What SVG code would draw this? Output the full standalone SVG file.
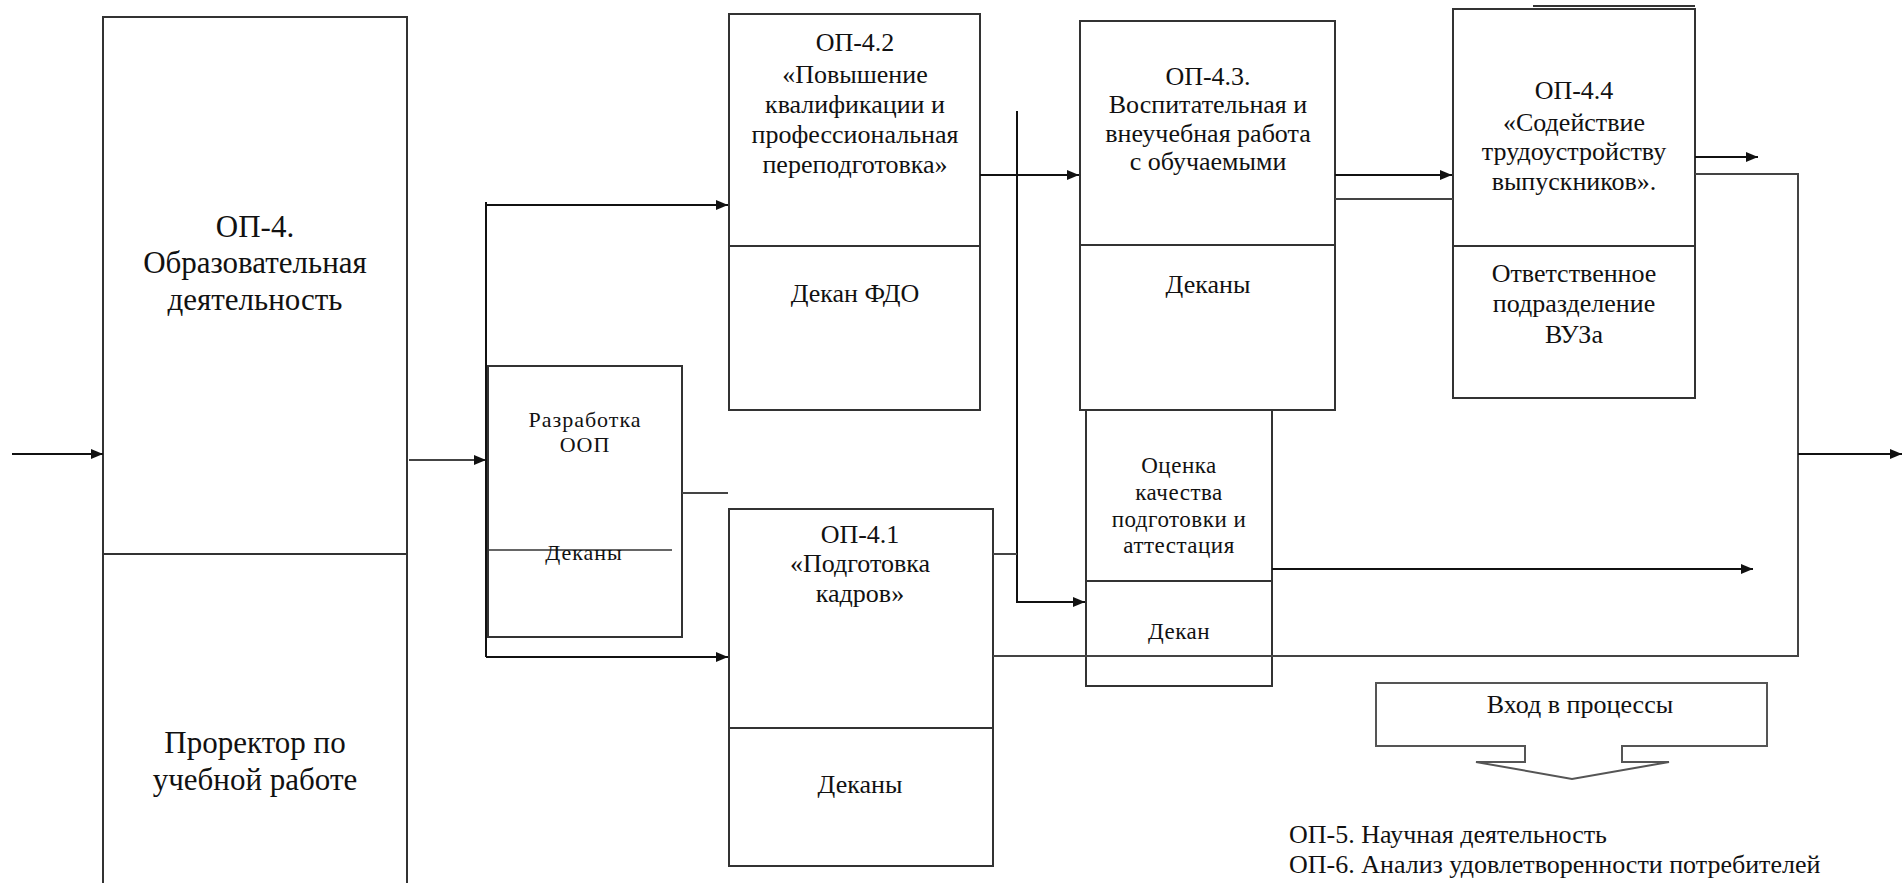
<svg xmlns="http://www.w3.org/2000/svg" width="1903" height="883" viewBox="0 0 1903 883">
<defs>
<marker id="ah" viewBox="0 0 12 10" refX="12" refY="5" markerWidth="12" markerHeight="10" markerUnits="userSpaceOnUse" orient="auto">
<path d="M0,0 L12,5 L0,10 Z" fill="#111"/>
</marker>
<style>
.box{fill:#fff;stroke:#333;stroke-width:2}
.div{stroke:#333;stroke-width:2}
.t{font-family:"Liberation Serif","Times New Roman",serif;fill:#111;text-anchor:middle}
.big{font-size:31px}
.m{font-size:26px}
.s{font-size:23px;letter-spacing:0.5px}
.xs{font-size:22px;letter-spacing:1px}
.l{font-family:"Liberation Serif","Times New Roman",serif;fill:#111;font-size:26px}
.c{fill:none;stroke:#111;stroke-width:2}
.cg{fill:none;stroke:#444;stroke-width:2}
.a{marker-end:url(#ah)}
</style>
</defs>
<rect width="1903" height="883" fill="#fff"/>

<g id="op4">
<rect class="box" x="103" y="17" width="304" height="900"/>
<line class="div" x1="103" y1="554" x2="407" y2="554"/>
<text class="t big" x="255" y="237">ОП-4.</text>
<text class="t big" x="255" y="273">Образовательная</text>
<text class="t big" x="255" y="310">деятельность</text>
<text class="t big" x="255" y="753">Проректор по</text>
<text class="t big" x="255" y="790">учебной работе</text>
</g>

<g id="razrabotka">
<rect class="box" x="488" y="366" width="194" height="271"/>
<line class="div" x1="486" y1="550" x2="672" y2="550" style="stroke-width:1.5"/>
<text class="t xs" x="585" y="427">Разработка</text>
<text class="t xs" x="585" y="452">ООП</text>
<text class="t xs" x="584" y="560">Деканы</text>
</g>

<g id="op4-2">
<rect class="box" x="729" y="14" width="251" height="396"/>
<line class="div" x1="729" y1="246" x2="980" y2="246"/>
<text class="t m" x="855" y="51">ОП-4.2</text>
<text class="t m" x="855" y="83">«Повышение</text>
<text class="t m" x="855" y="113">квалификации и</text>
<text class="t m" x="855" y="143">профессиональная</text>
<text class="t m" x="855" y="173">переподготовка»</text>
<text class="t m" x="855" y="302">Декан ФДО</text>
</g>

<g id="op4-1">
<rect class="box" x="729" y="509" width="264" height="357"/>
<line class="div" x1="729" y1="728" x2="993" y2="728"/>
<text class="t m" x="860" y="543">ОП-4.1</text>
<text class="t m" x="860" y="572">«Подготовка</text>
<text class="t m" x="860" y="602">кадров»</text>
<text class="t m" x="860" y="793">Деканы</text>
</g>

<g id="op4-3">
<rect class="box" x="1080" y="21" width="255" height="389"/>
<line class="div" x1="1080" y1="245" x2="1335" y2="245"/>
<text class="t m" x="1208" y="85">ОП-4.3.</text>
<text class="t m" x="1208" y="113">Воспитательная и</text>
<text class="t m" x="1208" y="142">внеучебная работа</text>
<text class="t m" x="1208" y="170">с обучаемыми</text>
<text class="t m" x="1208" y="293">Деканы</text>
</g>

<g id="ocenka">
<rect class="box" x="1086" y="410" width="186" height="276"/>
<line class="div" x1="1086" y1="581" x2="1272" y2="581"/>
<text class="t s" x="1179" y="473">Оценка</text>
<text class="t s" x="1179" y="500">качества</text>
<text class="t s" x="1179" y="527">подготовки и</text>
<text class="t s" x="1179" y="553">аттестация</text>
<text class="t s" x="1179" y="639">Декан</text>
</g>

<g id="op4-4">
<rect class="box" x="1453" y="9" width="242" height="389"/>
<line class="div" x1="1533" y1="6" x2="1695" y2="6"/>
<line class="div" x1="1453" y1="246" x2="1695" y2="246"/>
<text class="t m" x="1574" y="99">ОП-4.4</text>
<text class="t m" x="1574" y="131">«Содействие</text>
<text class="t m" x="1574" y="160">трудоустройству</text>
<text class="t m" x="1574" y="190">выпускников».</text>
<text class="t m" x="1574" y="282">Ответственное</text>
<text class="t m" x="1574" y="312">подразделение</text>
<text class="t m" x="1574" y="343">ВУЗа</text>
</g>

<g id="vhod">
<path d="M1376,683 H1767 V746 H1622 V762 H1669 L1572,779 L1476,762 H1525 V746 H1376 Z" fill="#fff" stroke="#555" stroke-width="2"/>
<text class="t m" x="1580" y="713">Вход в процессы</text>
</g>

<g id="legend">
<text class="l" x="1289" y="843">ОП-5. Научная деятельность</text>
<text class="l" x="1289" y="873">ОП-6. Анализ удовлетворенности потребителей</text>
</g>

<g id="connectors">
<line class="c a" x1="12" y1="454" x2="103" y2="454"/>
<line class="cg a" x1="409" y1="460" x2="486" y2="460"/>
<line class="c" x1="486" y1="202" x2="486" y2="657"/>
<line class="c a" x1="486" y1="205" x2="728" y2="205"/>
<line class="c a" x1="486" y1="657" x2="728" y2="657"/>
<line class="cg" x1="682" y1="493" x2="728" y2="493"/>
<line class="c a" x1="980" y1="175" x2="1079" y2="175"/>
<polyline class="c a" points="1017,111 1017,602 1085,602"/>
<line class="cg" x1="993" y1="554" x2="1017" y2="554"/>
<line class="c a" x1="1335" y1="175" x2="1452" y2="175"/>
<line class="cg" x1="1335" y1="199" x2="1453" y2="199"/>
<line class="c a" x1="1695" y1="157" x2="1758" y2="157"/>
<polyline class="cg" points="1695,174 1798,174 1798,656 993,656"/>
<line class="c a" x1="1798" y1="454" x2="1902" y2="454"/>
<line class="c a" x1="1272" y1="569" x2="1753" y2="569"/>
</g>
</svg>
